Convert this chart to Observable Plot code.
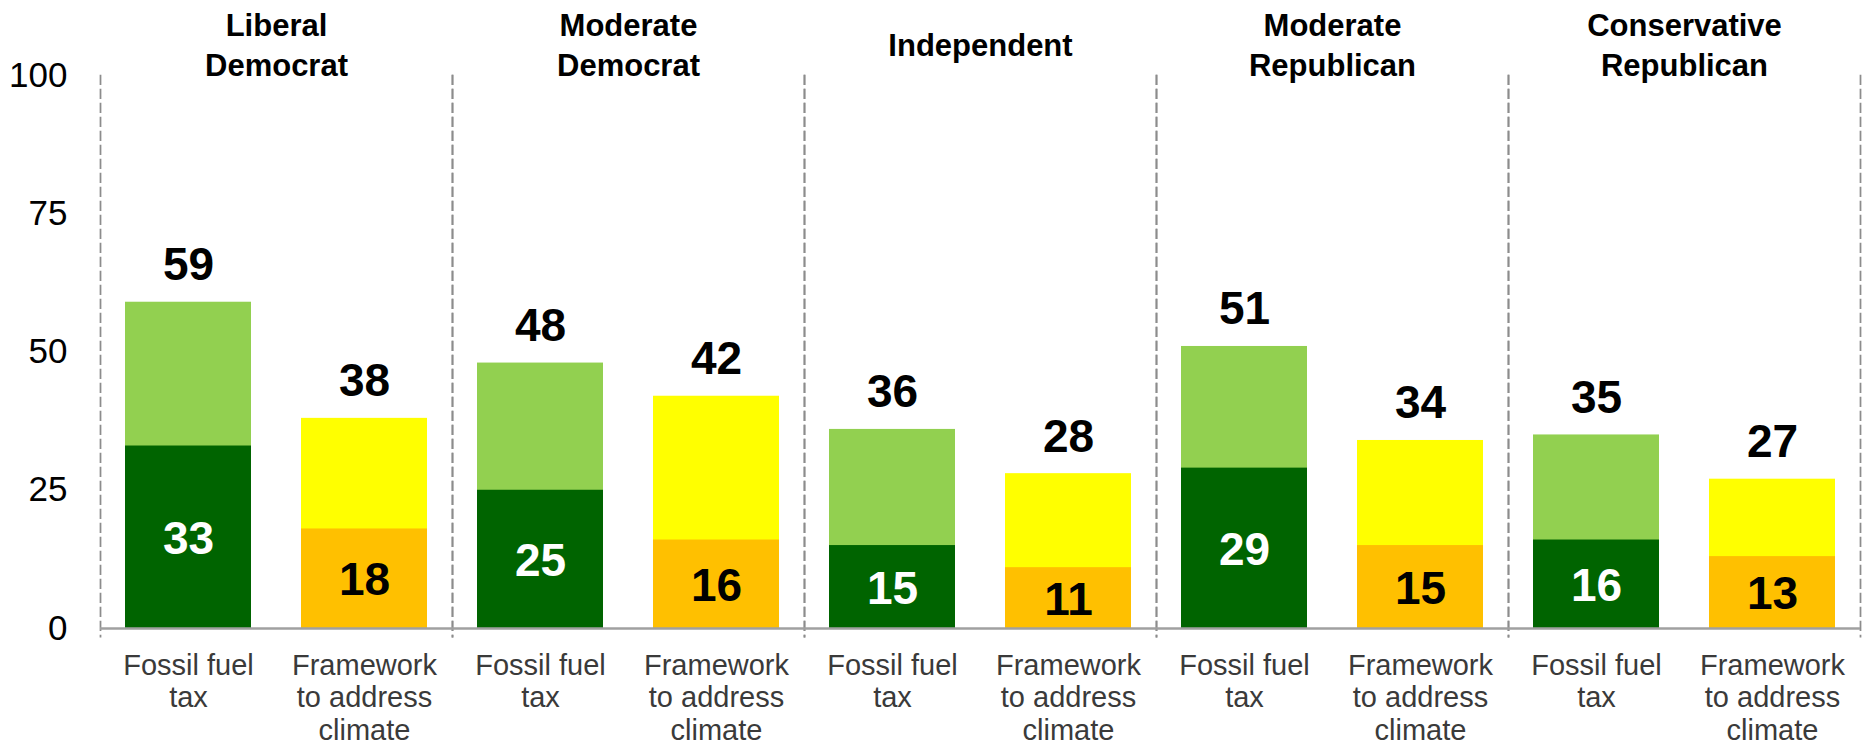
<!DOCTYPE html>
<html>
<head>
<meta charset="utf-8">
<script src="https://cdn.jsdelivr.net/npm/d3@7"></script>
<script src="https://cdn.jsdelivr.net/npm/@observablehq/plot@0.6"></script>
<style>
  html, body { margin: 0; padding: 0; background: #fff; }
  #chart { width: 1864px; height: 745px; }
</style>
</head>
<body>
<div id="chart"></div>
<script>
// ---- data ----
const groups = ["Liberal Democrat", "Moderate Democrat", "Independent", "Moderate Republican", "Conservative Republican"];
const groupLabels = ["Liberal\nDemocrat", "Moderate\nDemocrat", "Independent", "Moderate\nRepublican", "Conservative\nRepublican"];
const items = ["Fossil fuel tax", "Framework to address climate"];
const itemLabels = ["Fossil fuel\ntax", "Framework\nto address\nclimate"];
const fossilTotal = [59, 48, 36, 51, 35];
const fossilStrong = [33, 25, 15, 29, 16];
const frameworkTotal = [38, 42, 28, 34, 27];
const frameworkStrong = [18, 16, 11, 15, 13];
const yTicks = [0, 25, 50, 75, 100];

// ---- styles ----
const totalColor = {"Fossil fuel tax": "#92d050", "Framework to address climate": "#ffff00"};
const strongColor = {"Fossil fuel tax": "#006400", "Framework to address climate": "#ffc000"};
const strongText = {"Fossil fuel tax": "white", "Framework to address climate": "black"};

const rows = groups.flatMap((g, i) => [
  {group: g, item: items[0], total: fossilTotal[i], strong: fossilStrong[i]},
  {group: g, item: items[1], total: frameworkTotal[i], strong: frameworkStrong[i]}
]);
const groupTitles = groups.map((g, i) => ({group: g, label: groupLabels[i]}));
const itemRows = groups.flatMap(g => items.map((it, j) => ({group: g, item: it, label: itemLabels[j]})));

const chart = Plot.plot({
  width: 1864,
  height: 745,
  marginLeft: 100,
  marginRight: 4,
  marginTop: 75,
  marginBottom: 117,
  style: {fontFamily: "'Liberation Sans', Arial, sans-serif", background: "white"},
  fx: {domain: groups, padding: 0, axis: null},
  x: {domain: items, paddingInner: 0.284, paddingOuter: 0.142, axis: null},
  y: {domain: [0, 100], axis: null},
  color: {type: "identity"},
  marks: [
    Plot.frame({anchor: "left", stroke: "#8c8c8c", strokeWidth: 1.75, strokeDasharray: "8.5,5.5", insetBottom: -8}),
    Plot.frame({anchor: "right", stroke: "#8c8c8c", strokeWidth: 1.75, strokeDasharray: "8.5,5.5", insetBottom: -8}),
    Plot.barY(rows, {fx: "group", x: "item", y: "total", fill: d => totalColor[d.item]}),
    Plot.barY(rows, {fx: "group", x: "item", y: "strong", fill: d => strongColor[d.item]}),
    Plot.ruleY([0], {stroke: "#a0a0a0", strokeWidth: 2.5}),
    Plot.axisY({ticks: yTicks, tickSize: 0, tickPadding: 33, fontSize: 35, label: null, fill: "black"}),
    Plot.text(rows, {fx: "group", x: "item", y: "total", text: d => String(d.total),
      lineAnchor: "bottom", dy: -22, fontSize: 46, fontWeight: "bold", fill: "black"}),
    Plot.text(rows, {fx: "group", x: "item", y: d => d.strong / 2, text: d => String(d.strong),
      lineAnchor: "middle", dy: 2, fontSize: 46, fontWeight: "bold", fill: d => strongText[d.item]}),
    Plot.text(groupTitles, {fx: "group", text: "label", frameAnchor: "top", dy: -32,
      lineAnchor: "middle", lineHeight: 1.26, fontSize: 31, fontWeight: "bold", fill: "black"}),
    Plot.text(itemRows, {fx: "group", x: "item", text: "label", frameAnchor: "bottom", dy: 23,
      lineAnchor: "top", lineHeight: 1.12, fontSize: 29, fill: "#3a3a3a"})
  ]
});
document.getElementById("chart").appendChild(chart);
</script>
</body>
</html>
